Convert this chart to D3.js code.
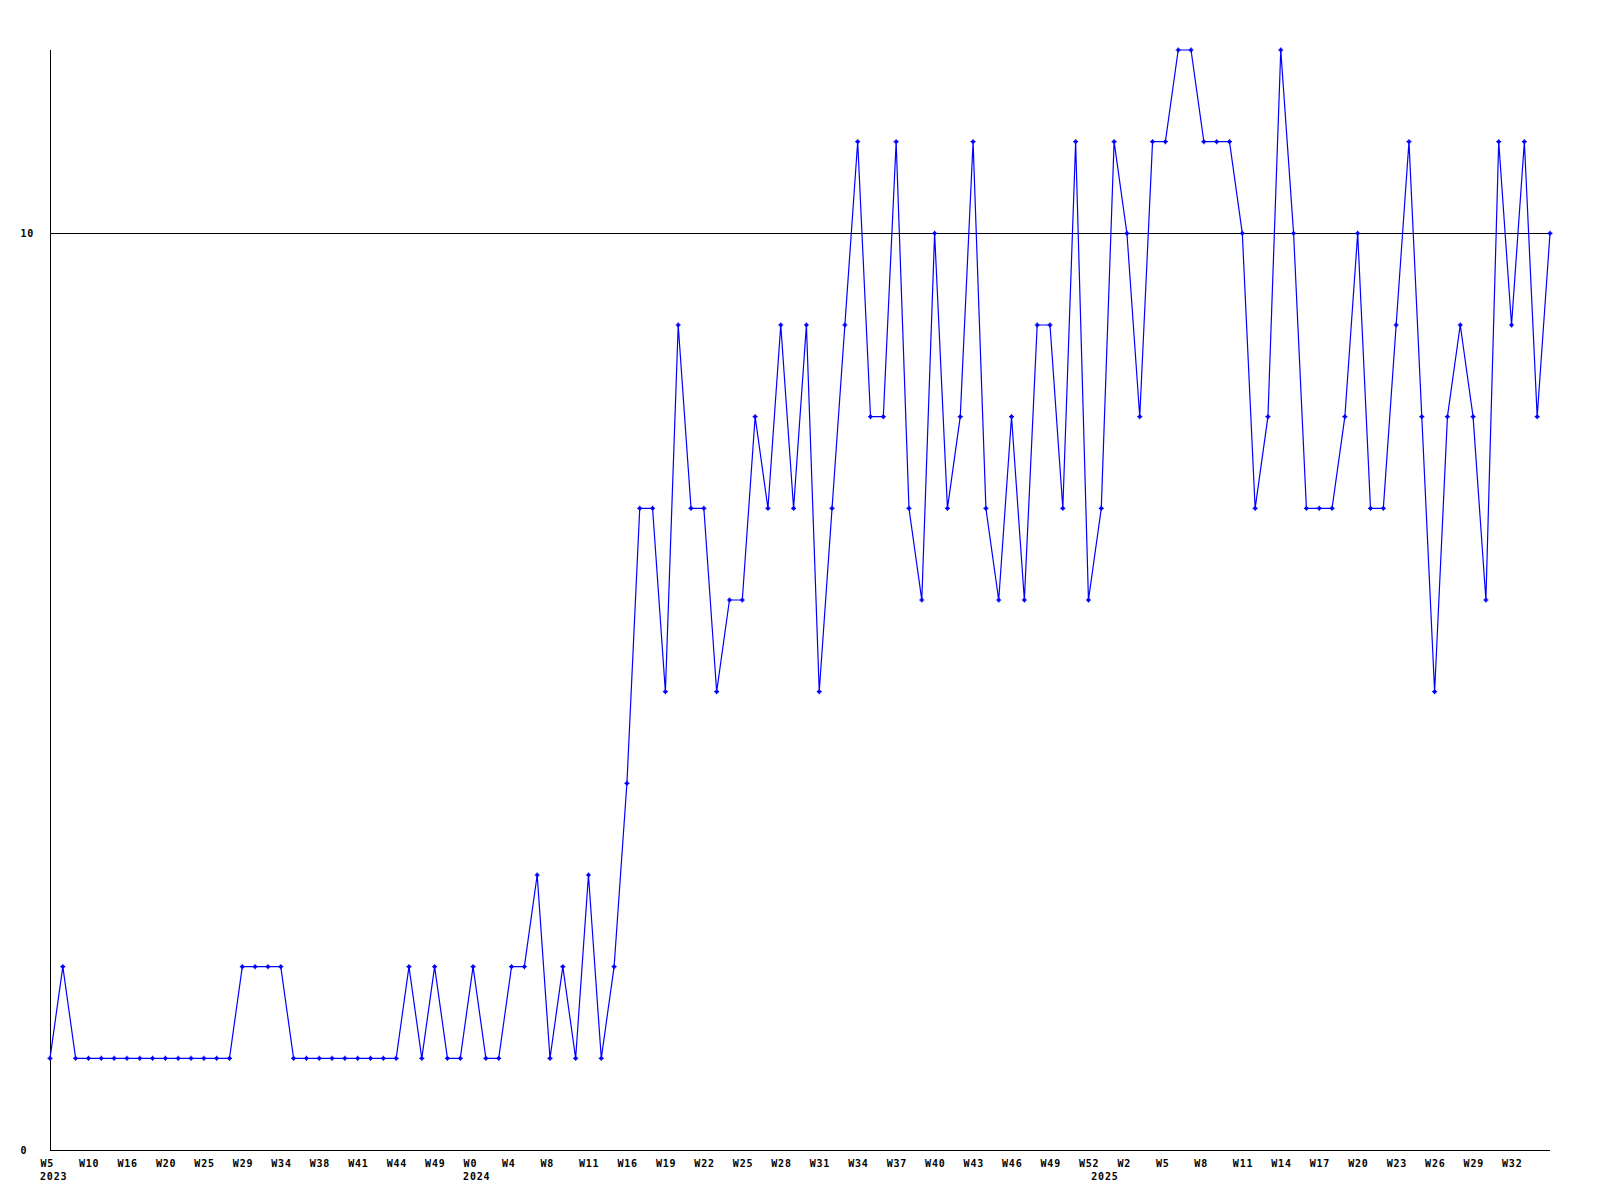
<!DOCTYPE html>
<html>
<head>
<meta charset="utf-8">
<script src="https://cdn.jsdelivr.net/npm/d3@7/dist/d3.min.js"></script>
<style>
  html, body { margin: 0; padding: 0; background: #fff; }
  svg { display: block; }
  .lbl { font-family: "DejaVu Sans Mono", monospace; font-weight: bold; font-size: 10px; letter-spacing: 0.8px; fill: #000; }
</style>
</head>
<body>
<svg id="chart" width="1600" height="1200"></svg>
<script>
// ---- data ----
const values = [
  1,2,1,1,1,1,1,1,1,1,1,1,1,1,1,
  2,2,2,2,
  1,1,1,1,1,1,1,1,1,
  2,1,2,1,1,2,1,1,2,2,3,1,2,1,3,1,2,4,
  7,7,5,9,7,7,5,6,6,8,7,9,7,9,5,7,9,11,8,8,11,7,6,10,7,8,11,7,6,8,6,9,9,7,11,6,7,11,10,8,
  11,11,12,12,11,11,11,10,7,8,12,10,7,7,7,8,10,7,7,9,11,8,5,8,9,8,6,11,9,11,8,10
];
const weekTickLabels = ["W5","W10","W16","W20","W25","W29","W34","W38","W41","W44","W49","W0","W4","W8","W11","W16","W19","W22","W25","W28","W31","W34","W37","W40","W43","W46","W49","W52","W2","W5","W8","W11","W14","W17","W20","W23","W26","W29","W32"];
const weekTickStep = 3;
const yearLabels = ["2023","2024","2025"];
const yearIndex = [0,33,82];
const yTickValues = [0,10];
const refLine = 10;

// ---- layout ----
const svg = d3.select("#chart");
const mLeft = 50, mRight = 1550, mTop = 50, mBottom = 1150;
const idx = d3.range(values.length);
const x = d3.scalePoint().domain(idx).range([mLeft, mRight]);
const y = d3.scaleLinear().domain([0, 12]).range([mBottom, mTop]);

// reference line at 10
svg.append("line")
  .attr("x1", mLeft).attr("x2", mRight)
  .attr("y1", y(refLine) + 0.5).attr("y2", y(refLine) + 0.5)
  .attr("stroke", "#000").attr("stroke-width", 1).attr("shape-rendering", "crispEdges");

// x axis
const tickIdx = weekTickLabels.map((_, i) => i * weekTickStep);
const xAxis = d3.axisBottom(x).tickValues(tickIdx).tickSize(0)
  .tickFormat(d => weekTickLabels[d / weekTickStep]);
const gx = svg.append("g").attr("transform", `translate(0,${mBottom + 0.5})`).call(xAxis);
gx.select(".domain").attr("stroke", "#000").attr("shape-rendering", "crispEdges")
  .attr("d", `M${mLeft},0H${mRight}`);
gx.selectAll("text").attr("class", "lbl").attr("text-anchor", "start")
  .attr("x", -10).attr("y", 16).attr("dy", null);

// year labels
svg.append("g").selectAll("text").data(yearLabels).join("text")
  .attr("class", "lbl")
  .attr("x", (d, i) => x(yearIndex[i]) - 10)
  .attr("y", mBottom + 30)
  .text(d => d);

// y axis
const yAxis = d3.axisLeft(y).tickValues(yTickValues).tickSize(0).tickFormat(d3.format("d"));
const gy = svg.append("g").attr("transform", `translate(${mLeft + 0.5},0)`).call(yAxis);
gy.select(".domain").attr("stroke", "#000").attr("shape-rendering", "crispEdges")
  .attr("d", `M0,${mTop}V${mBottom}`);
gy.selectAll("text").attr("class", "lbl").attr("text-anchor", "start")
  .attr("x", 20 - mLeft).attr("dy", "0.35em");

// series line
const line = d3.line().x((d, i) => x(i)).y(d => y(d));
svg.append("path").datum(values)
  .attr("d", line)
  .attr("fill", "none").attr("stroke", "#0000ff").attr("stroke-width", 1.2);

// markers
const mk = svg.append("g").selectAll("g").data(values).join("g")
  .attr("transform", (d, i) => `translate(${x(i)},${y(d)})`);
mk.append("path").attr("d", "M-2.5,0H2.5M0,-2.5V2.5")
  .attr("stroke", "#0000ff").attr("stroke-width", 1.2);
mk.append("rect").attr("x", -1.5).attr("y", -1.5).attr("width", 3).attr("height", 3)
  .attr("fill", "#0000ff");
</script>
</body>
</html>
